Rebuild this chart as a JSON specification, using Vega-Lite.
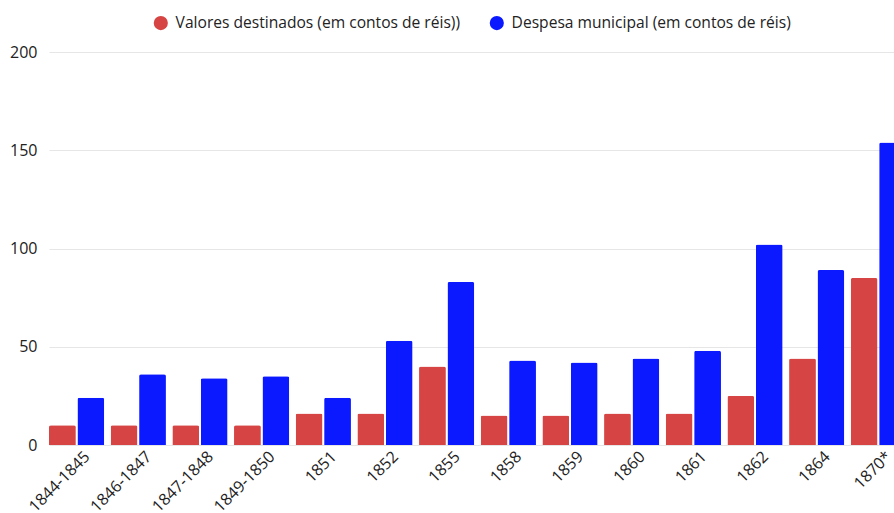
{
  "$schema": "https://vega.github.io/schema/vega-lite/v6.json",
  "width": 857,
  "height": 393,
  "autosize": {"type": "none"},
  "padding": {"left": 49, "top": 52, "right": 0, "bottom": 68},
  "background": "white",
  "data": {
    "values": [
      {"periodo": "1844-1845", "serie": "Valores destinados (em contos de réis))", "valor": 10},
      {"periodo": "1844-1845", "serie": "Despesa municipal (em contos de réis)", "valor": 24},
      {"periodo": "1846-1847", "serie": "Valores destinados (em contos de réis))", "valor": 10},
      {"periodo": "1846-1847", "serie": "Despesa municipal (em contos de réis)", "valor": 36},
      {"periodo": "1847-1848", "serie": "Valores destinados (em contos de réis))", "valor": 10},
      {"periodo": "1847-1848", "serie": "Despesa municipal (em contos de réis)", "valor": 34},
      {"periodo": "1849-1850", "serie": "Valores destinados (em contos de réis))", "valor": 10},
      {"periodo": "1849-1850", "serie": "Despesa municipal (em contos de réis)", "valor": 35},
      {"periodo": "1851", "serie": "Valores destinados (em contos de réis))", "valor": 16},
      {"periodo": "1851", "serie": "Despesa municipal (em contos de réis)", "valor": 24},
      {"periodo": "1852", "serie": "Valores destinados (em contos de réis))", "valor": 16},
      {"periodo": "1852", "serie": "Despesa municipal (em contos de réis)", "valor": 53},
      {"periodo": "1855", "serie": "Valores destinados (em contos de réis))", "valor": 40},
      {"periodo": "1855", "serie": "Despesa municipal (em contos de réis)", "valor": 83},
      {"periodo": "1858", "serie": "Valores destinados (em contos de réis))", "valor": 15},
      {"periodo": "1858", "serie": "Despesa municipal (em contos de réis)", "valor": 43},
      {"periodo": "1859", "serie": "Valores destinados (em contos de réis))", "valor": 15},
      {"periodo": "1859", "serie": "Despesa municipal (em contos de réis)", "valor": 42},
      {"periodo": "1860", "serie": "Valores destinados (em contos de réis))", "valor": 16},
      {"periodo": "1860", "serie": "Despesa municipal (em contos de réis)", "valor": 44},
      {"periodo": "1861", "serie": "Valores destinados (em contos de réis))", "valor": 16},
      {"periodo": "1861", "serie": "Despesa municipal (em contos de réis)", "valor": 48},
      {"periodo": "1862", "serie": "Valores destinados (em contos de réis))", "valor": 25},
      {"periodo": "1862", "serie": "Despesa municipal (em contos de réis)", "valor": 102},
      {"periodo": "1864", "serie": "Valores destinados (em contos de réis))", "valor": 44},
      {"periodo": "1864", "serie": "Despesa municipal (em contos de réis)", "valor": 89},
      {"periodo": "1870*", "serie": "Valores destinados (em contos de réis))", "valor": 85},
      {"periodo": "1870*", "serie": "Despesa municipal (em contos de réis)", "valor": 154}
    ]
  },
  "mark": {"type": "bar", "cornerRadiusTopLeft": 2, "cornerRadiusTopRight": 2, "clip": false},
  "encoding": {
    "x": {
      "field": "periodo",
      "type": "nominal",
      "sort": null,
      "scale": {"paddingInner": 0.104, "paddingOuter": 0},
      "axis": {
        "title": null,
        "labelAngle": -45,
        "labelAlign": "right",
        "labelBaseline": "top",
        "labelFont": "Open Sans",
        "labelFontSize": 16,
        "labelColor": "#222222",
        "ticks": false,
        "domain": false,
        "labelPadding": 3,
        "labelOffset": 5
      }
    },
    "xOffset": {
      "field": "serie",
      "type": "nominal",
      "sort": ["Valores destinados (em contos de réis))", "Despesa municipal (em contos de réis)"],
      "scale": {"paddingInner": 0.056, "paddingOuter": 0}
    },
    "y": {
      "field": "valor",
      "type": "quantitative",
      "scale": {"domain": [0, 200], "nice": false},
      "axis": {
        "title": null,
        "values": [0, 50, 100, 150, 200],
        "labelFont": "Open Sans",
        "labelFontSize": 16,
        "labelColor": "#222222",
        "ticks": false,
        "domain": false,
        "labelPadding": 12,
        "gridColor": "#e6e6e6"
      }
    },
    "color": {
      "field": "serie",
      "type": "nominal",
      "sort": ["Valores destinados (em contos de réis))", "Despesa municipal (em contos de réis)"],
      "scale": {
        "domain": ["Valores destinados (em contos de réis))", "Despesa municipal (em contos de réis)"],
        "range": ["#d64444", "#0a19ff"]
      },
      "legend": {
        "title": null,
        "orient": "none",
        "direction": "horizontal",
        "legendX": 104,
        "legendY": -37,
        "symbolType": "circle",
        "symbolSize": 200,
        "symbolStrokeWidth": 0,
        "labelFont": "Open Sans",
        "labelFontSize": 15.6,
        "labelColor": "#222222",
        "labelLimit": 400,
        "columnPadding": 28,
        "labelOffset": 7
      }
    }
  },
  "config": {"view": {"stroke": null}}
}
